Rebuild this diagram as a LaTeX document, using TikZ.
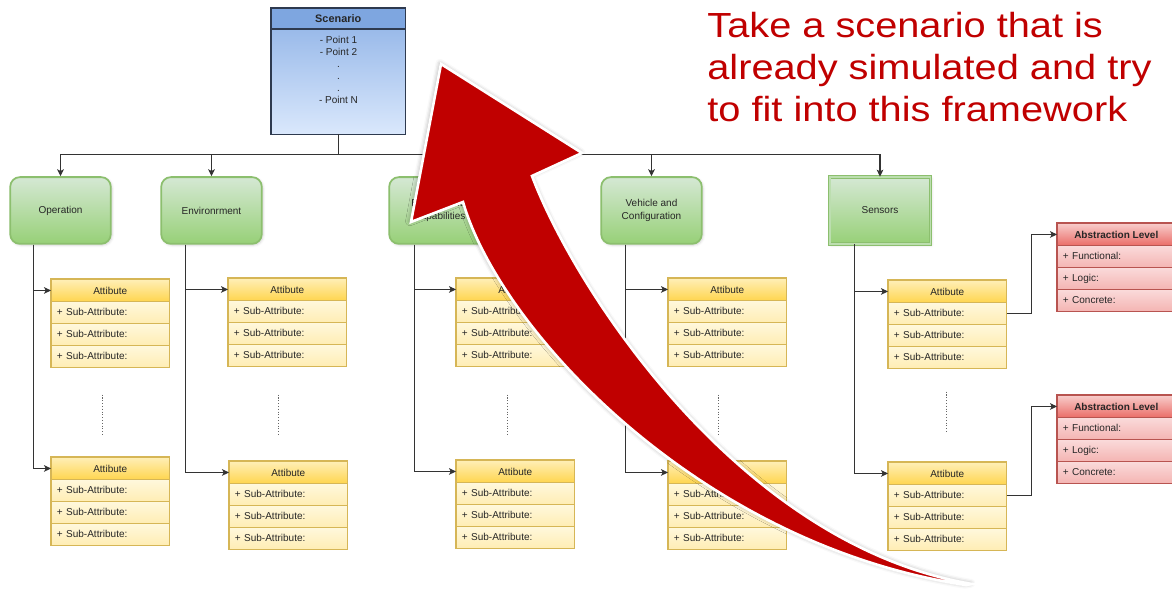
\documentclass[tikz,border=0pt]{standalone}
\usepackage{fontspec}
\setmainfont{Liberation Sans}
\newfontfamily\headlinefont[FakeStretch=1.14]{Liberation Sans}
\usetikzlibrary{arrows.meta,calc,shadows.blur}

% palette
\definecolor{scline}{HTML}{2E3A4F}
\definecolor{schd}{HTML}{7EA6E0}
\definecolor{sctop}{HTML}{8DB1E6}
\definecolor{scbot}{HTML}{DAE8FC}
\definecolor{grline}{HTML}{8CBF6E}
\definecolor{grtop}{HTML}{D5E8D4}
\definecolor{grbot}{HTML}{97D077}
\definecolor{ylline}{HTML}{D6B656}
\definecolor{yhtop}{HTML}{FFEFB8}
\definecolor{yhbot}{HTML}{FFD54D}
\definecolor{yrtop}{HTML}{FFF8DC}
\definecolor{yrbot}{HTML}{FFEDB3}
\definecolor{rdline}{HTML}{B85450}
\definecolor{rhtop}{HTML}{F8CECC}
\definecolor{rhbot}{HTML}{EA6B66}
\definecolor{rrtop}{HTML}{FADADA}
\definecolor{rrbot}{HTML}{F4B4B2}
\definecolor{bigred}{HTML}{C00000}
\definecolor{wire}{HTML}{333333}

% one drawing unit in points
\newcommand\pxw{0.5669pt}

\tikzset{
  every node/.style={font=\fontsize{5.7}{6.9}\selectfont, text=black!85},
  conn/.style={draw=wire, line width=0.6pt, -{Stealth[length=4pt,width=3.8pt,inset=1pt]}},
  dotline/.style={draw=black!60, line width=0.6pt, densely dotted},
  scbody/.style={draw=scline, line width=0.8pt, top color=sctop, bottom color=scbot,
    minimum width=135*\pxw, minimum height=127*\pxw, inner sep=0, outer sep=0, anchor=north west},
  schead/.style={draw=scline, line width=0.8pt, fill=schd,
    minimum width=135*\pxw, minimum height=21*\pxw, inner sep=0, outer sep=0, anchor=north west,
    font=\bfseries\fontsize{6.2}{7}\selectfont},
  greenbox/.style={draw=grline, line width=1pt, top color=grtop, bottom color=grbot,
    minimum width=101*\pxw, minimum height=67*\pxw, inner sep=0, align=center,
    font=\fontsize{5.7}{7.4}\selectfont,
    blur shadow={shadow xshift=0.7pt, shadow yshift=-0.7pt, shadow opacity=18, shadow blur radius=1.4pt}},
  roundbox/.style={greenbox, rounded corners=5.5pt},
  doublebox/.style={greenbox, line width=0.5pt, double=grtop!60!grbot, double distance=0.9pt},
  attrhead/.style={draw=ylline, line width=0.6pt, top color=yhtop, bottom color=yhbot,
    minimum width=119*\pxw, minimum height=23*\pxw, inner sep=0, outer sep=0, anchor=north west},
  attrrow/.style={draw=ylline, line width=0.6pt, top color=yrtop, bottom color=yrbot,
    minimum height=22*\pxw, text width=107*\pxw, inner xsep=6*\pxw, inner ysep=0,
    text height=4.2pt, text depth=1.2pt, align=left, outer sep=0, anchor=north west},
  abhead/.style={attrhead, draw=rdline, top color=rhtop, bottom color=rhbot, font=\bfseries\fontsize{5.7}{6.9}\selectfont},
  abrow/.style={attrrow, draw=rdline, top color=rrtop, bottom color=rrbot},
  bigtext/.style={anchor=base west, inner sep=0, text=bigred,
    font=\headlinefont\fontsize{19.85}{24}\selectfont},
}

% attribute table: name, left, top
\newcommand\attrtable[3]{%
  \node[attrhead] (#1) at (#2,#3) {Attibute};
  \node[attrrow] (#1-1) at (#1.south west) {+ Sub-Attribute:};
  \node[attrrow] (#1-2) at (#1-1.south west) {+ Sub-Attribute:};
  \node[attrrow] (#1-3) at (#1-2.south west) {+ Sub-Attribute:};
}
% abstraction table: name, left, top
\newcommand\leveltable[3]{%
  \node[abhead] (#1) at (#2,#3) {Abstraction Level};
  \node[abrow] (#1-1) at (#1.south west) {+ Functional:};
  \node[abrow] (#1-2) at (#1-1.south west) {+ Logic:};
  \node[abrow] (#1-3) at (#1-2.south west) {+ Concrete:};
}

\begin{document}
\begin{tikzpicture}[x=0.02cm, y=-0.02cm]
\useasboundingbox (0,0) rectangle (1172,590);
\clip (0,0) rectangle (1172,590);

% scenario container
\node[scbody] (sc) at (271,8) {};
\node[schead] (sch) at (271,8) {Scenario};
\node[align=center, inner sep=0, anchor=north, font=\fontsize{5.7}{6.92}\selectfont]
  (scpts) at (338.5,35.5) {- Point 1\\- Point 2\\.\\.\\.\\- Point N};

% categories
\node[roundbox] (op)  at (60.5,210.5)  {Operation};
\node[roundbox] (env) at (211.5,210.5) {Environrment};
\node[roundbox] (fun) at (439.5,210.5) {Functionality\\Capabilities};
\node[roundbox] (veh) at (651.5,210.5) {Vehicle and\\Configuration};
\node[doublebox] (sen) at (880,210.5)  {Sensors};

\foreach \c in {op,env,fun,veh,sen}
  \draw[conn] (sc.south) -- ++(0,20) -| (\c.north);

% attribute tables
\attrtable{c1t}{51}{279}
\attrtable{c1b}{51}{457}
\attrtable{c2t}{228}{278}
\attrtable{c2b}{229}{461}
\attrtable{c3t}{456}{278}
\attrtable{c3b}{456}{460}
\attrtable{c4t}{668}{278}
\attrtable{c4b}{668}{461}
\attrtable{c5t}{888}{280}
\attrtable{c5b}{888}{462}

% abstraction levels
\leveltable{ab1}{1057}{223}
\leveltable{ab2}{1057}{395}

% category to attribute links
\draw[conn] ($(op.south west)+(24,0)$) |- (c1t.west);
\draw[conn] ($(op.south west)+(24,0)$) |- (c1b.west);
\draw[conn] ($(env.south west)+(25,0)$) |- (c2t.west);
\draw[conn] ($(env.south west)+(25,0)$) |- (c2b.west);
\draw[conn] ($(fun.south west)+(26,0)$) |- (c3t.west);
\draw[conn] ($(fun.south west)+(26,0)$) |- (c3b.west);
\draw[conn] ($(veh.south west)+(25,0)$) |- (c4t.west);
\draw[conn] ($(veh.south west)+(25,0)$) |- (c4b.west);
\draw[conn] ($(sen.south west)+(25,0)$) |- (c5t.west);
\draw[conn] ($(sen.south west)+(25,0)$) |- (c5b.west);

% sensor attributes to abstraction levels
\draw[conn] (c5t-1.east) -- ++(25,0) |- (ab1.west);
\draw[conn] (c5b-1.east) -- ++(25,0) |- (ab2.west);

% ellipsis marks between tables
\draw[dotline] ($(c1t-3.south)+(-8,27)$) -- ($(c1t-3.south)+(-8,69)$);
\draw[dotline] ($(c2t-3.south)+(-8.5,28)$) -- ($(c2t-3.south)+(-8.5,70)$);
\draw[dotline] ($(c3t-3.south)+(-7.5,28)$) -- ($(c3t-3.south)+(-7.5,70)$);
\draw[dotline] ($(c4t-3.south)+(-8.5,28)$) -- ($(c4t-3.south)+(-8.5,70)$);
\draw[dotline] ($(c5t-3.south)+(-0.5,23)$) -- ($(c5t-3.south)+(-0.5,65)$);

% large curved arrow
\filldraw[fill=bigred, draw=white, line width=1.5pt, line join=miter,
  blur shadow={shadow xshift=-0.6pt, shadow yshift=0.4pt, shadow opacity=35, shadow blur radius=2.5pt}]
  (441,64) -- (582,153) -- (532,176)
  .. controls (575,290) and (740,545) .. (972,584)
  -- (966,585)
  .. controls (700,545) and (500,330) .. (463,202)
  -- (411,222) -- cycle;

% headline
\node[bigtext] (t1) at (707,37.7) {Take a scenario that is};
\node[bigtext] (t2) at (707,80)   {already simulated and try};
\node[bigtext] (t3) at (707,122)  {to fit into this framework};
\end{tikzpicture}
\end{document}
